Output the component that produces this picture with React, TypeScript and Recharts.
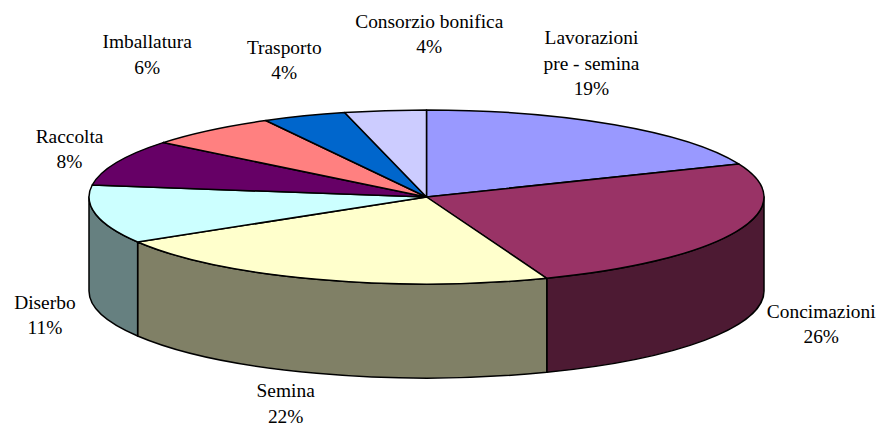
import { PieChart, Pie } from 'recharts'

const categories = [
  'Lavorazioni\npre - semina',
  'Concimazioni',
  'Semina',
  'Diserbo',
  'Raccolta',
  'Imballatura',
  'Trasporto',
  'Consorzio bonifica',
]
const shares = [18.8, 25.4, 22.15, 10.85, 8.55, 6.35, 4.0, 3.9]
const printedPercents = ['19%', '26%', '22%', '11%', '8%', '6%', '4%', '4%']
const topColors = ['#9999FF', '#993366', '#FFFFCC', '#CCFFFF', '#660066', '#FF8080', '#0066CC', '#CCCCFF']
const wallColors = ['#4D4D80', '#4D1A33', '#808066', '#668080', '#330033', '#804040', '#003366', '#666680']
// label block centre relative to the slice's mid point on the rim
const labelNudges = [
  [-23, -61],
  [85, 93],
  [-31, 125],
  [-51, 101],
  [-47, -13],
  [-63, -75],
  [-20, -55],
  [44, -76],
]

const CX = 426.5
const CY = 197
const RX = 337.5
const RY = 87
const DEPTH = 94
const FONT_SIZE = 19.4
const LINE_HEIGHT = 25.5
const EDGE = 1.5

const chartData = categories.map((name, i) => ({ name, value: shares[i], index: i }))

const rim = (angle: number, drop = 0) => {
  const rad = (angle * Math.PI) / 180
  return { x: CX + RX * Math.cos(rad), y: CY - RY * Math.sin(rad) + drop }
}

function TopSlice(props: any) {
  const { startAngle, endAngle, index } = props
  const a = rim(startAngle)
  const b = rim(endAngle)
  const large = startAngle - endAngle > 180 ? 1 : 0
  const d = `M${CX},${CY} L${a.x},${a.y} A${RX},${RY} 0 ${large} 1 ${b.x},${b.y} Z`
  return <path d={d} fill={topColors[index]} stroke="#000" strokeWidth={EDGE} strokeLinejoin="round" />
}

// only the front half of the rim (0 to -180 degrees) shows a wall
function WallSlice(props: any) {
  const { startAngle, endAngle, index } = props
  const from = Math.min(startAngle, 0)
  const to = Math.max(endAngle, -180)
  if (from <= to) return <g />
  const a = rim(from)
  const b = rim(to)
  const c = rim(to, DEPTH)
  const e = rim(from, DEPTH)
  const d = `M${a.x},${a.y} A${RX},${RY} 0 0 1 ${b.x},${b.y} L${c.x},${c.y} A${RX},${RY} 0 0 0 ${e.x},${e.y} Z`
  return <path d={d} fill={wallColors[index]} stroke="#000" strokeWidth={EDGE} strokeLinejoin="round" />
}

function renderLabel(props: any) {
  const { midAngle, index } = props
  const p = rim(midAngle)
  const [dx, dy] = labelNudges[index]
  const lines = [...categories[index].split('\n'), printedPercents[index]]
  const x = p.x + dx
  const top = p.y + dy - ((lines.length - 1) * LINE_HEIGHT) / 2 + FONT_SIZE * 0.3
  return (
    <text x={x} y={top} textAnchor="middle" fontSize={FONT_SIZE} fontFamily="'Liberation Serif', serif" fill="#000">
      {lines.map((line, i) => (
        <tspan key={i} x={x} y={top + i * LINE_HEIGHT}>
          {line}
        </tspan>
      ))}
    </text>
  )
}

export default function App() {
  return (
    <div style={{ position: 'absolute', left: 0, top: 0, width: 879, height: 425, background: '#fff' }}>
      <PieChart width={879} height={425} margin={{ top: 0, right: 0, bottom: 0, left: 0 }}>
        <Pie
          data={chartData}
          dataKey="value"
          cx={CX}
          cy={CY}
          innerRadius={0}
          outerRadius={RX}
          startAngle={90}
          endAngle={-270}
          shape={WallSlice}
          label={false}
          labelLine={false}
          isAnimationActive={false}
        />
        <Pie
          data={chartData}
          dataKey="value"
          cx={CX}
          cy={CY}
          innerRadius={0}
          outerRadius={RX}
          startAngle={90}
          endAngle={-270}
          shape={TopSlice}
          label={renderLabel}
          labelLine={false}
          isAnimationActive={false}
        />
      </PieChart>
    </div>
  )
}
